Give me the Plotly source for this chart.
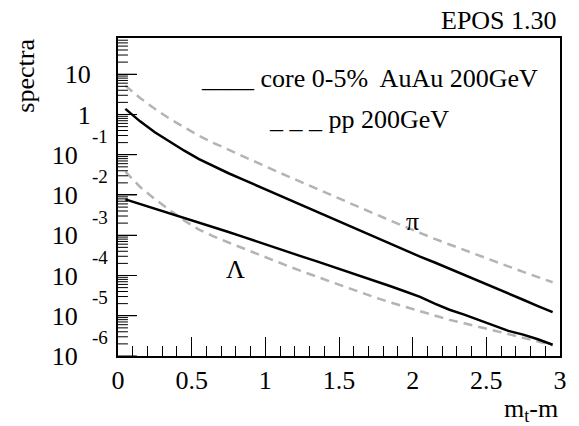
import plotly.graph_objects as go

# ---------------- data ----------------
x_pts = [0.05, 0.15, 0.25, 0.35, 0.45, 0.55, 0.65, 0.75, 0.85, 0.95,
         1.05, 1.15, 1.25, 1.35, 1.45, 1.55, 1.65, 1.75, 1.85, 1.95,
         2.05, 2.15, 2.25, 2.35, 2.45, 2.55, 2.65, 2.75, 2.85, 2.95]

pi_auau = [1.38, 0.676, 0.363, 0.209, 0.126, 0.0776, 0.0513, 0.0347, 0.0240, 0.0166,
           0.0117, 8.1e-3, 5.6e-3, 3.9e-3, 2.7e-3, 1.86e-3, 1.29e-3, 8.9e-4, 6.2e-4, 4.3e-4,
           2.95e-4, 2.1e-4, 1.48e-4, 1.05e-4, 7.4e-5, 5.2e-5, 3.7e-5, 2.5e-5, 1.74e-5, 1.23e-5]

pi_pp = [5.2, 2.57, 1.38, 0.79, 0.48, 0.295, 0.195, 0.132, 0.089, 0.062,
         0.0427, 0.0295, 0.0204, 0.0141, 9.8e-3, 6.8e-3, 4.7e-3, 3.2e-3, 2.3e-3, 1.62e-3,
         1.12e-3, 8.1e-4, 5.9e-4, 4.3e-4, 3.1e-4, 2.24e-4, 1.66e-4, 1.23e-4, 9.1e-5, 6.8e-5]

lam_auau = [7.8e-3, 6.0e-3, 4.6e-3, 3.5e-3, 2.7e-3, 2.1e-3, 1.58e-3, 1.2e-3, 9.1e-4, 6.8e-4,
            5.1e-4, 3.9e-4, 2.95e-4, 2.24e-4, 1.7e-4, 1.29e-4, 9.5e-5, 7.2e-5, 5.4e-5, 4.0e-5,
            2.95e-5, 2.0e-5, 1.41e-5, 1.07e-5, 7.9e-6, 5.9e-6, 4.2e-6, 3.4e-6, 2.6e-6, 1.9e-6]

lam_pp = [0.038, 0.0158, 7.9e-3, 4.2e-3, 2.3e-3, 1.38e-3, 9.3e-4, 6.6e-4, 4.7e-4, 3.3e-4,
          2.4e-4, 1.74e-4, 1.26e-4, 9.3e-5, 6.9e-5, 5.1e-5, 3.8e-5, 2.8e-5, 2.14e-5, 1.66e-5,
          1.29e-5, 1.0e-5, 7.9e-6, 6.5e-6, 5.2e-6, 4.3e-6, 3.5e-6, 2.9e-6, 2.3e-6, 1.86e-6]

y_decades = [1, 0, -1, -2, -3, -4, -5, -6]
y_tick_base = ["10", "1", "10", "10", "10", "10", "10", "10"]
y_tick_exp = ["", "", "-1", "-2", "-3", "-4", "-5", "-6"]
x_tickvals = [0, 0.5, 1, 1.5, 2, 2.5, 3]
x_ticktext = ["0", "0.5", "1", "1.5", "2", "2.5", "3"]

FONT = "Liberation Serif"
FS = 26
GRAY = "#b4b4b4"
Y_RANGE = [-6, 1.9]

# plot-area geometry (pixels) used for placing texts
L, R, T, B = 118, 16, 38, 70
PW = 579 - L - R
PH = 426 - T - B

def px_x(p):
    return (p - L) / PW

def px_y(p):
    return 1 - (p - T) / PH

y_tickvals = [10.0 ** d for d in y_decades]
y_ticktext = [b + ("\u00a0\u00a0" if e else "") for b, e in zip(y_tick_base, y_tick_exp)]

# minor tick positions for the log axis (2..9 in each decade), data values
minor_vals = [k * 10.0 ** d for d in range(-6, 2) for k in range(2, 10)]
minor_vals = [v for v in minor_vals if v <= 10 ** Y_RANGE[1]]

fig = go.Figure()
for ys in (pi_pp, lam_pp):
    fig.add_trace(go.Scatter(x=x_pts, y=ys, mode="lines",
                             line=dict(color=GRAY, width=2.5, dash="9px,6px"),
                             showlegend=False, hoverinfo="skip"))
for ys in (pi_auau, lam_auau):
    fig.add_trace(go.Scatter(x=x_pts, y=ys, mode="lines",
                             line=dict(color="black", width=2.5),
                             showlegend=False, hoverinfo="skip"))

# y-axis tick marks (major 19 px, minor 10 px) drawn on a pixel-scaled helper x axis
tx, ty = [], []
for v in y_tickvals:
    tx += [0, 19, None]
    ty += [v, v, None]
for v in minor_vals:
    tx += [0, 10, None]
    ty += [v, v, None]
fig.add_trace(go.Scatter(x=tx, y=ty, xaxis="x2", yaxis="y", mode="lines",
                         line=dict(color="black", width=1), connectgaps=False,
                         showlegend=False, hoverinfo="skip", cliponaxis=False))

fig.update_layout(
    width=579, height=426,
    margin=dict(l=L, r=R, t=T, b=B),
    paper_bgcolor="white", plot_bgcolor="white",
    font=dict(family=FONT, size=FS, color="black"),
    showlegend=False,
)
fig.update_layout(
    xaxis=dict(
        range=[0, 3], showgrid=False, zeroline=False,
        showline=True, linecolor="black", linewidth=2, mirror=True,
        ticks="inside", ticklen=19, tickwidth=1, tickcolor="black",
        tickvals=x_tickvals, ticktext=x_ticktext,
        tickfont=dict(family=FONT, size=FS),
        minor=dict(ticks="inside", ticklen=10, dtick=0.1, tickcolor="black",
                   tickwidth=1, showgrid=False),
    ),
    xaxis2=dict(
        range=[0, PW], overlaying="x", anchor="y", side="bottom",
        visible=False, showgrid=False, zeroline=False, fixedrange=True,
    ),
    yaxis=dict(
        type="log", range=Y_RANGE, showgrid=False, zeroline=False,
        showline=True, linecolor="black", linewidth=2, mirror=True,
        ticks="inside", ticklen=19, tickwidth=1, tickcolor="black",
        tickvals=y_tickvals, ticktext=y_ticktext,
        tickfont=dict(family=FONT, size=FS), ticklabelstandoff=20,
    ),
)

ann = [
    dict(text="EPOS 1.30", xref="paper", yref="paper", x=px_x(562), y=px_y(20), xanchor="right",
         yanchor="middle", showarrow=False, font=dict(size=FS)),
    dict(text="spectra", xref="paper", yref="paper", x=px_x(24), y=px_y(76), xanchor="center",
         yanchor="middle", textangle=-90, showarrow=False, font=dict(size=FS)),
    dict(text="m<sub>t</sub>-m", xref="paper", yref="paper", x=px_x(563), y=px_y(410),
         xanchor="right", yanchor="middle", showarrow=False, font=dict(size=FS)),
    dict(text="____ core 0-5%\u00a0 AuAu 200GeV", xref="paper", yref="paper", x=px_x(543),
         y=px_y(78), xanchor="right", yanchor="middle", showarrow=False, font=dict(size=FS)),
    dict(text="_ _ _ pp 200GeV", xref="paper", yref="paper", x=px_x(268), y=px_y(120),
         xanchor="left", yanchor="middle", showarrow=False, font=dict(size=FS)),
    dict(text="π", xref="x", yref="y", x=2.0, y=-2.66, showarrow=False, font=dict(size=FS)),
    dict(text="Λ", xref="x", yref="y", x=0.8, y=-3.86, showarrow=False, font=dict(size=FS)),
]
# raised exponents of the y tick labels
for d, e in zip(y_decades, y_tick_exp):
    if e:
        ann.append(dict(text=e, xref="paper", yref="y", x=px_x(110), y=d + 0.45,
                        xanchor="right", yanchor="middle", showarrow=False,
                        font=dict(size=19)))
fig.update_layout(annotations=ann)

fig.write_html("out.html")
